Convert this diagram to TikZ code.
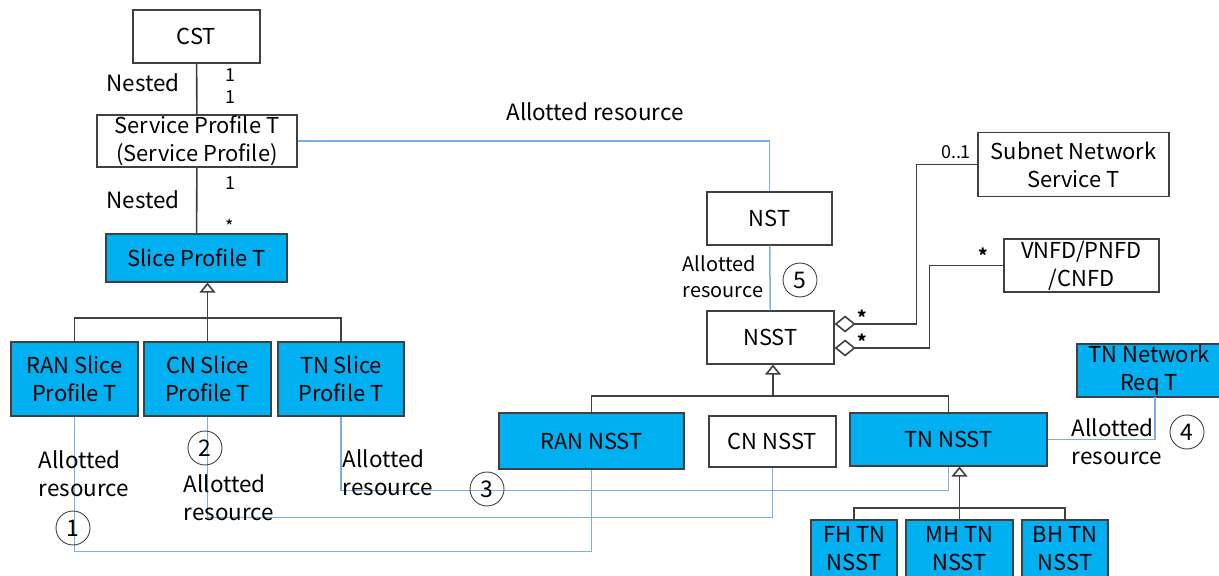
\documentclass[tikz,border=0pt]{standalone}
\usepackage{fontspec}
\setmainfont{Noto Sans CJK SC}
\usetikzlibrary{arrows.meta,positioning}
\definecolor{SliceBlue}{RGB}{0,176,240}
\definecolor{LinkBlue}{RGB}{125,174,224}
\definecolor{LineGray}{RGB}{64,64,64}

\begin{document}
\begin{tikzpicture}[x=1bp,y=-1bp]
		\tikzstyle{Box}		= [rectangle, draw=LineGray, line width=1.2bp, fill=white, align=center, inner sep=0pt, font=\fontsize{22}{28}\selectfont]
		\tikzstyle{Part}	= [Box, fill=SliceBlue]
		\tikzstyle{Label}	= [align=left, inner sep=0pt, font=\fontsize{22.5}{28}\selectfont]
		\tikzstyle{Mult}	= [inner sep=0pt, font=\fontsize{18}{20}\selectfont]
		\tikzstyle{Num}		= [circle, draw=LineGray, line width=0.9bp, minimum size=34bp, inner sep=0pt, font=\fontsize{23}{24}\selectfont]
		\tikzstyle{Assoc}	= [LineGray, line width=1.6bp]
		\tikzstyle{Inherit}	= [Assoc, -{Triangle[open, length=10bp, width=16bp]}]
		\tikzstyle{Aggr}	= [Assoc, {Diamond[open, length=21bp, width=17bp]}-]
		\tikzstyle{Allot}	= [LinkBlue, line width=1.5bp]

		\useasboundingbox (0,0) rectangle (1219,576);

		% templates
		\node (cst) at (196.5, 36.5) [Box, minimum width=127bp, minimum height=53bp] {CST};
		\node (sp) at (197, 141) [Box, minimum width=200bp, minimum height=52bp] {Service Profile T\\(Service Profile)};
		\node (slice) at (196.5, 258) [Part, minimum width=181bp, minimum height=48bp] {Slice Profile T};
		\node (ranslice) at (74.5, 379) [Part, minimum width=127bp, minimum height=74bp] {RAN Slice\\Profile T};
		\node (cnslice) at (207.5, 379) [Part, minimum width=127bp, minimum height=74bp] {CN Slice\\Profile T};
		\node (tnslice) at (341, 379) [Part, minimum width=126bp, minimum height=74bp] {TN Slice\\Profile T};

		\node (nst) at (769.5, 218.5) [Box, minimum width=125bp, minimum height=53bp] {NST};
		\node (nsst) at (770.5, 337.5) [Box, minimum width=127bp, minimum height=53bp] {NSST};
		\node (subnet) at (1073.5, 164.5) [Box, minimum width=191bp, minimum height=64bp] {Subnet Network\\Service T};
		\node (vnfd) at (1081.5, 265.5) [Box, minimum width=155bp, minimum height=53bp] {VNFD/PNFD\\/CNFD};
		\node (tnreq) at (1149, 370.5) [Part, minimum width=144bp, minimum height=53bp] {TN Network\\Req T};

		\node (ransst) at (591.5, 441) [Part, minimum width=185bp, minimum height=56bp] {RAN NSST};
		\node (cnnsst) at (772.5, 441.5) [Box, minimum width=127bp, minimum height=51bp] {CN NSST};
		\node (tnnsst) at (948.5, 439.5) [Part, minimum width=197bp, minimum height=53bp] {TN NSST};
		\node (fh) at (854, 549) [Part, minimum width=86bp, minimum height=58bp] {FH TN\\NSST};
		\node (mh) at (959.5, 549) [Part, minimum width=107bp, minimum height=58bp] {MH TN\\NSST};
		\node (bh) at (1065, 549) [Part, minimum width=86bp, minimum height=58bp] {BH TN\\NSST};

		% nesting
		\draw[Assoc] (cst) -- (sp);
		\draw[Assoc] (sp) -- (slice);
		\node (nestA) at (143, 83) [Label] {Nested};
		\node (nestB) at (143, 200) [Label] {Nested};
		\node (mA) at (230, 75) [Mult] {1};
		\node (mB) at (230, 97) [Mult] {1};
		\node (mC) at (230, 183) [Mult] {1};
		\node (mD) at (230, 226) [Mult] {*};

		% generalisations
		\coordinate (sliceFork) at (207, 318);
		\draw[Assoc] (ranslice.north) |- (sliceFork) -| (tnslice.north);
		\draw[Inherit] (cnslice.north) -- (cnslice.north |- slice.south);
		\coordinate (nsstFork) at (773, 396);
		\draw[Assoc] (ransst.north) |- (nsstFork) -| (tnnsst.north);
		\draw[Inherit] (nsstFork) -- (nsstFork |- nsst.south);
		\coordinate (tnFork) at (959.5, 508);
		\draw[Assoc] (fh.north) |- (tnFork) -| (bh.north);
		\draw[Inherit] (mh.north) -- (mh.north |- tnnsst.south);

		% aggregations
		\draw[Aggr] ([yshift=13.5bp]nsst.east) -- ++(82, 0) |- (subnet.west);
		\draw[Aggr] ([yshift=-10.5bp]nsst.east) -- ++(95, 0) |- (vnfd.west);
		\node (mE) at (862, 317) [Mult, font=\bfseries\fontsize{18}{20}\selectfont] {*};
		\node (mF) at (862, 341) [Mult, font=\bfseries\fontsize{18}{20}\selectfont] {*};
		\node (mG) at (956, 152) [Mult] {0..1};
		\node (mH) at (983, 255) [Mult, font=\bfseries\fontsize{18}{20}\selectfont] {*};

		% allotted resources
		\draw[Allot] (sp.east) -| (nst.north);
		\draw[Allot] (nst) -- (nsst);
		\draw[Allot] (ranslice.south) -- ++(0, 135) -| (ransst.south);
		\draw[Allot] (cnslice.south) -- ++(0, 101) -| (cnnsst.south);
		\draw[Allot] (tnslice.south) -- ++(0, 74) -| (tnnsst.south);
		\coordinate (reqFoot) at (1155, 397);
		\draw[Allot] (tnnsst.east) -| (reqFoot);

		\node (allotTop) at (595, 112) [Label] {Allotted resource};
		\node (allotNst) at (723, 277) [Label, font=\fontsize{20}{26}\selectfont] {Allotted\\resource};
		\node (allotRan) at (84, 474) [Label] {Allotted\\resource};
		\node (allotCn) at (229, 498) [Label] {Allotted\\resource};
		\node (allotTn) at (388, 473) [Label] {Allotted\\resource};
		\node (allotReq) at (1117, 442) [Label] {Allotted\\resource};

		\node (n1) at (73, 528) [Num] {1};
		\node (n2) at (205, 448) [Num] {2};
		\node (n3) at (487, 489) [Num] {3};
		\node (n4) at (1187, 432) [Num] {4};
		\node (n5) at (800, 280) [Num] {5};
	\end{tikzpicture}
\end{document}
